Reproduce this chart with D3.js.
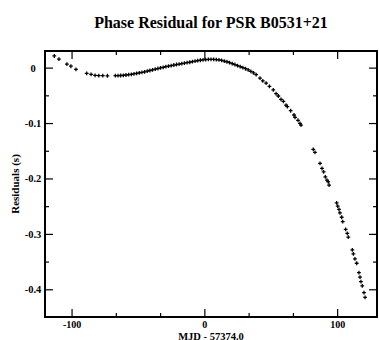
<!DOCTYPE html>
<html>
<head>
<meta charset="utf-8">
<script src="https://cdn.jsdelivr.net/npm/d3@7"></script>
<style>
  body { margin: 0; background: #fff; }
  svg { font-family: "Liberation Serif", "Times New Roman", serif; font-weight: bold; }
</style>
</head>
<body>
<div id="chart"></div>
<script>
// Phase residual for PSR B0531+21

var mjd = [
  -113, -109.5, -103.5, -100.5, -96.7, -88.6, -85.3, -82.3, -79.5, -76.5, -73,
  -67, -65, -63, -61, -59, -57, -55, -53, -51, -49, -47, -45, -43, -41,
  -39, -37, -35, -33, -31, -29, -27, -25, -23, -21, -19, -17, -15, -13,
  -11, -9, -7, -5, -3, -1, 1, 3, 5, 7, 9, 11, 13, 15, 17, 19, 21, 23,
  25, 27, 29, 31, 33, 35, 37, 39,
  41.9, 44, 46.5, 49, 51.9, 54, 55.7, 57.7, 59.5, 61.5, 62.5, 65, 67.5, 68.3, 70.5, 72, 72.8,
  82, 83.3, 87.1, 88.6, 89.8, 91.1, 92.3, 93.3, 93.9,
  99.6, 100.4, 101.4, 102.1, 103.4, 104.2, 106.4, 107.6, 108.4,
  111.4, 112.2, 113.4, 114.7, 116.4, 117.2, 117.9, 118.9, 120.2, 121
];

var residual = [
  0.021, 0.0155, 0.0065, 0.0025, -0.003, -0.0102, -0.012, -0.0138, -0.0143, -0.0143, -0.0147,
  -0.0146, -0.0145, -0.0142, -0.0138, -0.0133, -0.0127, -0.0120, -0.0112, -0.0104, -0.0095, -0.0086, -0.0075, -0.0064, -0.0052,
  -0.0040, -0.0028, -0.0016, -0.0005, 0.0006, 0.0017, 0.0027, 0.0037, 0.0047, 0.0056, 0.0065, 0.0074, 0.0082, 0.0090,
  0.0097, 0.0110, 0.0118, 0.0126, 0.0133, 0.0140, 0.0146, 0.0149, 0.0150, 0.0149, 0.0145, 0.0139, 0.0130, 0.0119, 0.0106, 0.0091, 0.0074, 0.0056,
  0.0037, 0.0018, 0.0000, -0.0020, -0.0042, -0.0067, -0.0095, -0.0125,
  -0.019, -0.024, -0.028, -0.034, -0.040, -0.047, -0.0512, -0.0572, -0.061, -0.0675, -0.0705, -0.0778, -0.0855, -0.0897, -0.095, -0.1005, -0.1036,
  -0.1474, -0.1529, -0.1727, -0.182, -0.188, -0.197, -0.203, -0.206, -0.212,
  -0.244, -0.25, -0.256, -0.262, -0.27, -0.278, -0.292, -0.299, -0.306,
  -0.329, -0.336, -0.345, -0.353, -0.37, -0.378, -0.386, -0.394, -0.406, -0.4146
];

var xMajor = [-100, 0, 100];
var xMinor = [-66.67, -33.33, 33.33, 66.67];
var yMajor = [0, -0.1, -0.2, -0.3, -0.4];
var yMinor = [-0.05, -0.15, -0.25, -0.35];

var width = 379, height = 340;
var margin = { top: 51, right: 2, bottom: 23, left: 45 };

var svg = d3.select("#chart").append("svg")
  .attr("width", width)
  .attr("height", height);

var x = d3.scaleLinear()
  .domain([-120, 130])
  .range([margin.left, width - margin.right]);

var y = d3.scaleLinear()
  .domain([-0.45, 0.03])
  .range([height - margin.bottom, margin.top]);

var fmt = function(d) { return String(d); };

function styleAxis(g) {
  g.select(".domain").remove();
  g.selectAll(".tick line").attr("stroke", "#000").attr("stroke-width", 1.2);
  g.selectAll(".tick text")
    .attr("fill", "#000")
    .style("font-size", "10.5px")
    .style("font-weight", "bold")
    .style("font-family", '"Liberation Serif", serif');
}

// bottom
svg.append("g")
  .attr("transform", `translate(0,${y.range()[0]})`)
  .call(d3.axisBottom(x).tickValues(xMajor).tickSize(-8).tickPadding(3.5).tickFormat(fmt))
  .call(styleAxis)
  .call(g => g.selectAll(".tick text").style("font-size", "10px"));
svg.append("g")
  .attr("transform", `translate(0,${y.range()[0]})`)
  .call(d3.axisBottom(x).tickValues(xMinor).tickSize(-4).tickFormat(""))
  .call(styleAxis);

// top
svg.append("g")
  .attr("transform", `translate(0,${margin.top})`)
  .call(d3.axisTop(x).tickValues(xMajor).tickSize(-8).tickFormat(""))
  .call(styleAxis);
svg.append("g")
  .attr("transform", `translate(0,${margin.top})`)
  .call(d3.axisTop(x).tickValues(xMinor).tickSize(-4).tickFormat(""))
  .call(styleAxis);

// left
svg.append("g")
  .attr("transform", `translate(${margin.left},0)`)
  .call(d3.axisLeft(y).tickValues(yMajor).tickSize(-8).tickFormat(fmt))
  .call(styleAxis)
  .call(g => g.selectAll(".tick text").attr("text-anchor", "middle").attr("x", -12));
svg.append("g")
  .attr("transform", `translate(${margin.left},0)`)
  .call(d3.axisLeft(y).tickValues(yMinor).tickSize(-4).tickFormat(""))
  .call(styleAxis);

// right
svg.append("g")
  .attr("transform", `translate(${x.range()[1]},0)`)
  .call(d3.axisRight(y).tickValues(yMajor).tickSize(-8).tickFormat(""))
  .call(styleAxis);
svg.append("g")
  .attr("transform", `translate(${x.range()[1]},0)`)
  .call(d3.axisRight(y).tickValues(yMinor).tickSize(-4).tickFormat(""))
  .call(styleAxis);

// frame
svg.append("rect")
  .attr("x", x.range()[0])
  .attr("y", y.range()[1])
  .attr("width", x.range()[1] - x.range()[0])
  .attr("height", y.range()[0] - y.range()[1])
  .attr("fill", "none")
  .attr("stroke", "#000")
  .attr("stroke-width", 2);

// points
var sym = d3.symbol().type(d3.symbolCross).size(8);
svg.append("g")
  .selectAll("path")
  .data(d3.range(mjd.length))
  .join("path")
  .attr("transform", i => `translate(${x(mjd[i])},${y(residual[i])})`)
  .attr("d", sym)
  .attr("fill", "#000");

// title + labels
svg.append("text")
  .attr("x", (x.range()[0] + x.range()[1]) / 2)
  .attr("y", 28)
  .attr("text-anchor", "middle")
  .style("font-size", "16px")
  .text("Phase Residual for PSR B0531+21");

svg.append("text")
  .attr("x", (x.range()[0] + x.range()[1]) / 2)
  .attr("y", 339.5)
  .attr("text-anchor", "middle")
  .style("font-size", "10.5px")
  .text("MJD - 57374.0");

svg.append("text")
  .attr("transform", `translate(19,${(y.range()[0] + y.range()[1]) / 2}) rotate(-90)`)
  .attr("text-anchor", "middle")
  .style("font-size", "11px")
  .text("Residuals (s)");
</script>
</body>
</html>
